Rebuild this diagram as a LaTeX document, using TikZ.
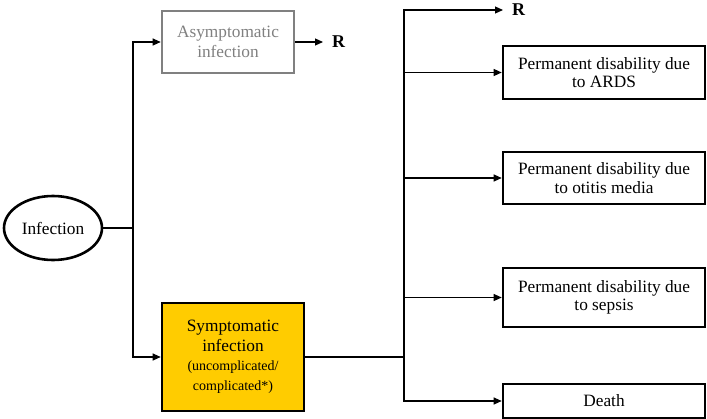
\documentclass[tikz,border=0pt]{standalone}
\usepackage{fontspec}
\setmainfont{Liberation Serif}
\usepackage{xcolor}
\usetikzlibrary{arrows.meta,shapes.geometric}
\definecolor{symgold}{HTML}{FFCC00}
\tikzset{
  ln/.style={line width=1.1pt},
  arr/.style={line width=1.1pt,-{Triangle[length=8pt,width=7pt]}},
  outbox/.style={draw,line width=2.6pt,minimum width=202pt,align=center,font=\fontsize{17.3}{18.5}\selectfont,inner sep=2pt},
  endR/.style={font=\bfseries\fontsize{18}{20}\selectfont,anchor=west,inner xsep=9pt}
}
\begin{document}
\begin{tikzpicture}[x=1pt,y=-1pt]
\useasboundingbox (0,0) rectangle (707,418);
\node[ellipse,draw,line width=2.6pt,minimum width=98pt,minimum height=64pt,inner sep=0pt,font=\fontsize{17.3}{19}\selectfont] (inf) at (53,228) {Infection};
\node[draw=gray,text=gray,line width=2.6pt,minimum width=132pt,minimum height=62pt,align=center,font=\fontsize{17.3}{20}\selectfont] (asym) at (228,42) {Asymptomatic\\infection};
\node[draw,fill=symgold,line width=2.6pt,minimum width=142pt,minimum height=108pt,align=center,font=\fontsize{17.3}{20.5}\selectfont] (symp) at (233,357) {Symptomatic\\infection\\[-2pt]{\fontsize{14}{17}\selectfont(uncomplicated/}\\{\fontsize{14}{17}\selectfont complicated*)}};
\node[endR] (r1) at (323,42) {R};
\node[endR] (r2) at (503,10) {R};
\node[outbox,minimum height=53pt] (ards) at (604,72.5) {Permanent disability due\\to ARDS};
\node[outbox,minimum height=52pt] (otit) at (604,178) {Permanent disability due\\to otitis media};
\node[outbox,minimum height=59pt] (seps) at (604,297.5) {Permanent disability due\\to sepsis};
\node[outbox,minimum height=34pt] (death) at (604,401) {Death};
\coordinate (sp1) at (133,228);
\coordinate (sp2) at (404,357);
% left split
\draw[ln] (inf) -- (sp1);
\draw[arr] (sp1) |- (asym.west);
\draw[arr] (sp1) |- (symp.west);
\draw[arr] (asym.east) -- (r1.west);
% right split
\draw[ln] (symp.east) -- (sp2);
\draw[arr] (sp2) |- (r2.west);
\draw[arr] (sp2) |- (ards.west);
\draw[arr] (sp2) |- (otit.west);
\draw[arr] (sp2) |- (seps.west);
\draw[arr] (sp2) |- (death.west);
\end{tikzpicture}
\end{document}
